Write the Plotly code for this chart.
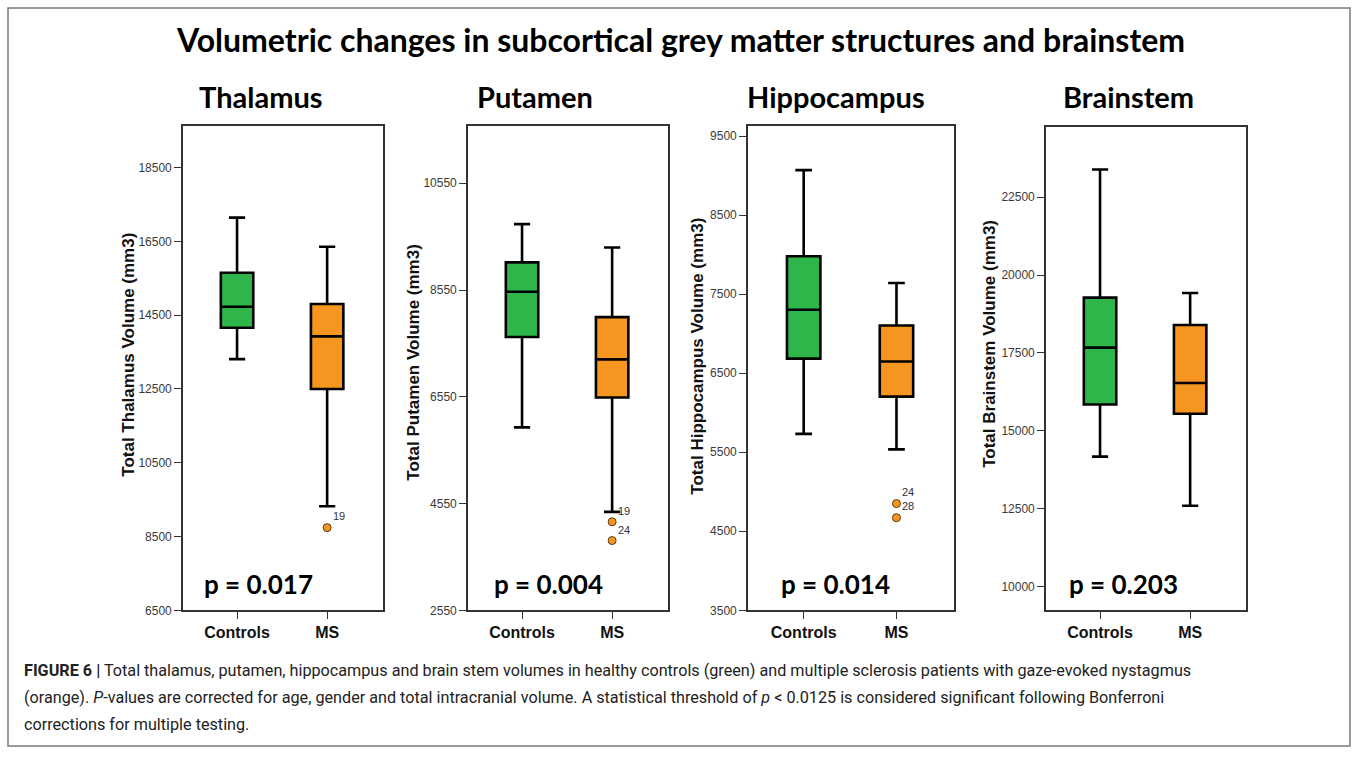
import plotly.graph_objects as go

# ---- data -------------------------------------------------------------
groups = ["Controls", "MS"]
structures = ["Thalamus", "Putamen", "Hippocampus", "Brainstem"]
y_titles = ["Total Thalamus Volume (mm3)", "Total Putamen Volume (mm3)",
            "Total Hippocampus Volume (mm3)", "Total Brainstem Volume (mm3)"]
p_values = ["p = 0.017", "p = 0.004", "p = 0.014", "p = 0.203"]

# box statistics per structure: [Controls, MS]
lower_whisker = [[13307, 9320], [5977, 4395], [5733, 5536], [14172, 12595]]
q1_vals = [[14157, 12500], [7671, 6537], [6685, 6204], [15844, 15548]]
median_vals = [[14728, 13924], [8517, 7251], [7303, 6648], [17672, 16535]]
q3_vals = [[15647, 14800], [9067, 8042], [7980, 7103], [19277, 18398]]
upper_whisker = [[17141, 16355], [9784, 9345], [9070, 7641], [23392, 19427]]

# outliers in the MS group (value, case label)
outlier_values = [[8741], [4209, 3857], [4851, 4672], []]
outlier_cases = [["19"], ["19", "24"], ["24", "28"], []]

# axis ranges and ticks
y_ranges = [[6500, 19630], [2550, 11625], [3500, 9630], [9236, 24761]]
y_ticks = [list(range(6500, 18501, 2000)), list(range(2550, 10551, 2000)),
           list(range(3500, 9501, 1000)), list(range(10000, 22501, 2500))]

colors = ["#2fb64b", "#f6951f"]

# ---- layout geometry (pixels) ---------------------------------------
W, H = 1358, 760
panels_px = [(183, 383, 127, 616), (468, 668, 127, 616),
             (748, 954, 127, 616), (1046, 1246, 128, 616)]
ytitle_pos = [(129, 358), (414, 366), (698, 359), (990, 347)]
subtitle_x = [261, 535, 836, 1128]
pval_x = [258, 548, 835, 1123]


def px_x(x):
    return x / W


def px_y(y):
    return 1 - y / H


fig = go.Figure()
AXIS_COLOR = "#333333"
tick_font = dict(family="Liberation Sans, Arial", size=12, color="#3a3a3a")

annotations = []
for i in range(4):
    xa = "x" if i == 0 else f"x{i+1}"
    ya = "y" if i == 0 else f"y{i+1}"
    for g in range(2):
        fig.add_trace(go.Box(
            x=[groups[g]],
            q1=[q1_vals[i][g]], median=[median_vals[i][g]], q3=[q3_vals[i][g]],
            lowerfence=[lower_whisker[i][g]], upperfence=[upper_whisker[i][g]],
            fillcolor=colors[g], line=dict(color="black", width=2.6),
            whiskerwidth=0.5, width=0.36, boxpoints=False,
            xaxis=xa, yaxis=ya, showlegend=False, hoverinfo="skip",
        ))
    if outlier_values[i]:
        fig.add_trace(go.Scatter(
            x=[groups[1]] * len(outlier_values[i]), y=outlier_values[i],
            mode="markers",
            marker=dict(color=colors[1], size=8,
                        line=dict(color="#5a3a10", width=1)),
            xaxis=xa, yaxis=ya, showlegend=False, hoverinfo="skip",
        ))

    x0, x1, y0, y1 = panels_px[i]
    layout_x = dict(
        domain=[px_x(x0), px_x(x1)], anchor=ya, type="category",
        categoryorder="array", categoryarray=groups,
        range=[-0.6, 1.62], showline=True, mirror=True,
        linecolor=AXIS_COLOR, linewidth=1.6, ticks="outside", ticklen=7,
        tickwidth=1.4, tickcolor=AXIS_COLOR, showgrid=False, zeroline=False,
        tickfont=dict(family="Liberation Sans, Arial", size=16,
                      color="#111111", weight="bold"),
        fixedrange=True,
    )
    layout_y = dict(
        domain=[px_y(y1), px_y(y0)], anchor=xa, range=y_ranges[i],
        tickmode="array", tickvals=y_ticks[i],
        ticktext=[str(v) for v in y_ticks[i]],
        showline=True, mirror=True, linecolor=AXIS_COLOR, linewidth=1.6,
        ticks="outside", ticklen=7, tickwidth=1.4, tickcolor=AXIS_COLOR,
        showgrid=False, zeroline=False, tickfont=tick_font, fixedrange=True,
    )
    fig.update_layout(**{("xaxis" if i == 0 else f"xaxis{i+1}"): layout_x,
                         ("yaxis" if i == 0 else f"yaxis{i+1}"): layout_y})

    # rotated y-axis title
    tx, ty = ytitle_pos[i]
    annotations.append(dict(
        x=px_x(tx), y=px_y(ty), xref="paper", yref="paper",
        text=y_titles[i], textangle=-90, showarrow=False,
        font=dict(family="Liberation Sans, Arial", size=17, color="#111111",
                  weight="bold"),
        xanchor="center", yanchor="middle",
    ))
    # panel heading
    annotations.append(dict(
        x=px_x(subtitle_x[i]), y=px_y(97), xref="paper", yref="paper",
        text=structures[i], showarrow=False,
        font=dict(family="Lato", size=29, color="#000000", weight="bold"),
        xanchor="center", yanchor="middle",
    ))
    # p-value
    annotations.append(dict(
        x=px_x(pval_x[i]), y=px_y(589), xref="paper", yref="paper",
        text=p_values[i], showarrow=False,
        font=dict(family="Lato", size=26, color="#000000", weight="bold"),
        xanchor="center", yanchor="middle",
    ))

# case labels beside the outliers / whisker ends
case_label_offsets = {
    0: [(groups[1], 8741, 12, 12)],
    1: [(groups[1], 4395, 12, 1), (groups[1], 4209, 12, -8)],
    2: [(groups[1], 4851, 12, 12), (groups[1], 4851, 12, -2)],
}
for i, items in case_label_offsets.items():
    xa = "x" if i == 0 else f"x{i+1}"
    ya = "y" if i == 0 else f"y{i+1}"
    for (cat, yv, dx, dy), lab in zip(items, outlier_cases[i]):
        annotations.append(dict(
            x=cat, y=yv, xref=xa, yref=ya, text=lab, showarrow=False,
            xshift=dx, yshift=dy,
            font=dict(family="Liberation Sans, Arial", size=11, color="#333333"),
            xanchor="center", yanchor="middle",
        ))

# main title
annotations.append(dict(
    x=px_x(680), y=px_y(40), xref="paper", yref="paper",
    text="Volumetric changes in subcortical grey matter structures and brainstem",
    showarrow=False,
    font=dict(family="Lato", size=32, color="#000000", weight="bold"),
    xanchor="center", yanchor="middle",
))

# figure caption
caption_lines = [
    "<b>FIGURE 6 |</b> Total thalamus, putamen, hippocampus and brain stem volumes in "
    "healthy controls (green) and multiple sclerosis patients with gaze-evoked nystagmus",
    "(orange). <i>P</i>-values are corrected for age, gender and total intracranial volume. "
    "A statistical threshold of <i>p</i> &lt; 0.0125 is considered significant following Bonferroni",
    "corrections for multiple testing.",
]
caption_y = [677, 704, 731]
for line, cy in zip(caption_lines, caption_y):
    annotations.append(dict(
        x=px_x(22), y=px_y(cy), xref="paper", yref="paper", text=line,
        showarrow=False,
        font=dict(family="Roboto", size=16.2, color="#222222"),
        xanchor="left", yanchor="middle",
    ))

fig.update_layout(
    width=W, height=H, autosize=False,
    margin=dict(l=0, r=0, t=0, b=0),
    paper_bgcolor="white", plot_bgcolor="white",
    annotations=annotations,
    shapes=[dict(type="rect", xref="paper", yref="paper",
                 x0=px_x(8), x1=px_x(1350), y0=px_y(753), y1=px_y(8),
                 line=dict(color="#7a7a7a", width=1.5))],
)

fig.write_html("out.html")
